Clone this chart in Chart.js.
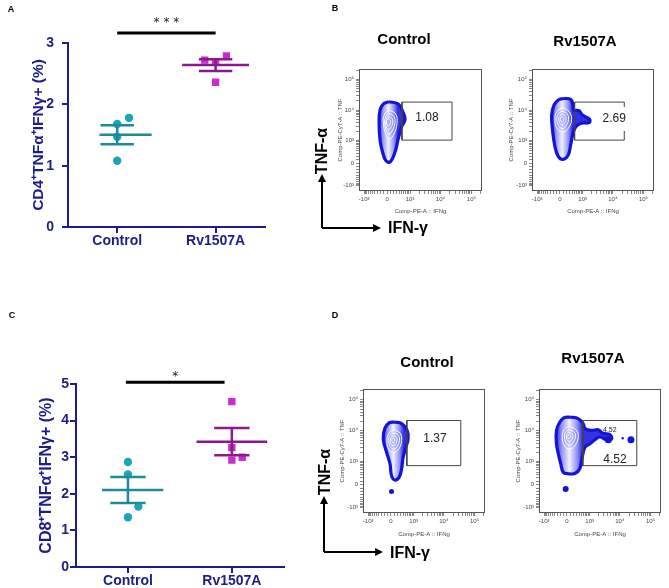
<!DOCTYPE html>
<html>
<head>
<meta charset="utf-8">
<script src="https://cdn.jsdelivr.net/npm/chart.js@4.4.1/dist/chart.umd.min.js"></script>
<style>
body{margin:0;background:#fff;font-family:"Liberation Sans",Arial,sans-serif;}
#page{position:relative;width:669px;height:588px;overflow:hidden;background:#fff;}
canvas{position:absolute;}
.t{position:absolute;white-space:nowrap;transform:translate(-50%,-50%);font-weight:bold;color:#000;line-height:1;}
.lt{font-size:9px;}
.hd{font-size:15px;}
.ax{font-size:16px;}
.rot{transform:translate(-50%,-50%) rotate(-90deg);}
svg{position:absolute;left:0;top:0;}
</style>
</head>
<body>
<div id="page">
  <canvas id="cA" width="270" height="260" style="left:0;top:0"></canvas>
  <canvas id="cC" width="289" height="248" style="left:0;top:340px"></canvas>
  <canvas id="fB1" width="165" height="160" style="left:325px;top:62px"></canvas>
  <canvas id="fB2" width="164" height="160" style="left:498px;top:62px"></canvas>
  <canvas id="fD1" width="164" height="162" style="left:329px;top:382px"></canvas>
  <canvas id="fD2" width="164" height="162" style="left:505px;top:382px"></canvas>

  <svg width="669" height="588">
    <g stroke="#000" stroke-width="2" fill="none">
      <path d="M322 228 V181 M322 228 H374"/>
      <path d="M324 552 V503 M324 552 H376"/>
    </g>
    <g fill="#000">
      <path d="M322 174 L318 182 L326 182 Z"/>
      <path d="M381 228 L373 224 L373 232 Z"/>
      <path d="M324 496 L320 504 L328 504 Z"/>
      <path d="M383 552 L375 548 L375 556 Z"/>
    </g>
  </svg>

  <div class="t lt" style="left:11px;top:9px">A</div>
  <div class="t lt" style="left:335px;top:8px">B</div>
  <div class="t lt" style="left:12px;top:315px">C</div>
  <div class="t lt" style="left:335px;top:315px">D</div>

  <div class="t hd" style="left:404px;top:38px">Control</div>
  <div class="t hd" style="left:585px;top:40px">Rv1507A</div>
  <div class="t hd" style="left:427px;top:361px">Control</div>
  <div class="t hd" style="left:593px;top:357px">Rv1507A</div>

  <div class="t ax rot" style="left:322px;top:151px">TNF-α</div>
  <div class="t ax" style="left:408px;top:228px">IFN-γ</div>
  <div class="t ax rot" style="left:325px;top:472px">TNF-α</div>
  <div class="t ax" style="left:410px;top:553px">IFN-γ</div>
</div>

<script>
// ---- dot plots (A: CD4, C: CD8), % of cells ----
var groups = ['Control', 'Rv1507A'];
var cd4Control = [1.68, 1.78, 1.47, 1.08];
var cd4Rv = [2.72, 2.69, 2.79, 2.36];
var cd8Control = [2.87, 2.53, 1.65, 1.36];
var cd8Rv = [4.52, 3.26, 2.92, 3.00];
var cd4Ticks = [0, 1, 2, 3];
var cd8Ticks = [0, 1, 2, 3, 4, 5];
var cd4Stars = '* * *';
var cd8Stars = '*';

// ---- flow plots, biexponential axes ----
var flowTickValues = [-1000, 0, 1000, 10000, 100000];
var flowTickLabels = ['-10³', '0', '10³', '10⁴', '10⁵'];
var gateB = ['1.08', '2.69'];
var gateD = ['1.37', '4.52'];

// contour outlines, in axis display units
var bCtrlOuter = [[0.04,2.00],[0.36,1.93],[0.53,1.62],[0.58,1.41],[0.47,1.19],[0.35,0.75],[0.26,0.37],[0.10,0.04],[-0.04,0.08],[-0.15,0.37],[-0.23,0.75],[-0.26,1.30],[-0.23,1.73],[-0.12,1.93]];
var bCtrlRings = [
  [[0.08,1.72],[0.28,1.60],[0.32,1.30],[0.22,0.95],[0.08,0.80],[-0.04,0.95],[-0.12,1.30],[-0.08,1.60]],
  [[0.06,1.62],[0.22,1.52],[0.25,1.30],[0.16,1.05],[0.06,0.95],[-0.03,1.08],[-0.08,1.32],[-0.04,1.52]],
  [[0.05,1.52],[0.16,1.45],[0.18,1.30],[0.11,1.15],[0.04,1.10],[-0.02,1.18],[-0.05,1.33],[-0.02,1.46]],
  [[0.04,1.45],[0.10,1.40],[0.11,1.32],[0.07,1.24],[0.03,1.22],[-0.01,1.27],[-0.02,1.35],[0.00,1.42]]
];
var bRvOuter = [[0.11,2.11],[0.35,2.08],[0.43,1.90],[0.45,1.73],[0.62,1.71],[0.73,1.57],[0.97,1.43],[0.95,1.32],[0.70,1.30],[0.52,1.19],[0.43,0.97],[0.35,0.59],[0.27,0.26],[0.11,0.12],[-0.05,0.21],[-0.16,0.53],[-0.24,1.08],[-0.27,1.57],[-0.19,1.90],[-0.05,2.06]];
var bRvRings = [
  [[0.08,1.80],[0.30,1.68],[0.38,1.42],[0.28,1.15],[0.10,1.02],[-0.08,1.12],[-0.16,1.40],[-0.10,1.68]],
  [[0.08,1.70],[0.24,1.60],[0.28,1.42],[0.20,1.22],[0.08,1.13],[-0.04,1.22],[-0.10,1.42],[-0.06,1.60]],
  [[0.08,1.60],[0.18,1.53],[0.20,1.42],[0.14,1.30],[0.07,1.25],[0.00,1.30],[-0.04,1.43],[-0.02,1.53]],
  [[0.08,1.52],[0.12,1.48],[0.13,1.42],[0.10,1.37],[0.06,1.35],[0.02,1.38],[0.01,1.44],[0.03,1.50]]
];
var dCtrlOuter = [[0.13,2.01],[0.35,1.96],[0.53,1.74],[0.56,1.47],[0.49,1.20],[0.40,0.88],[0.35,0.51],[0.27,0.24],[0.13,0.15],[0.02,0.29],[-0.03,0.67],[-0.16,1.10],[-0.25,1.47],[-0.20,1.80],[-0.06,1.98]];
var dCtrlRings = [
  [[0.10,1.76],[0.30,1.65],[0.35,1.42],[0.26,1.15],[0.10,1.04],[-0.06,1.12],[-0.13,1.40],[-0.06,1.65]],
  [[0.09,1.66],[0.24,1.58],[0.28,1.42],[0.20,1.22],[0.09,1.14],[-0.02,1.22],[-0.07,1.42],[-0.03,1.58]],
  [[0.08,1.57],[0.18,1.51],[0.20,1.42],[0.15,1.30],[0.08,1.26],[0.01,1.30],[-0.02,1.42],[0.01,1.52]],
  [[0.08,1.50],[0.12,1.47],[0.13,1.42],[0.11,1.37],[0.08,1.35],[0.04,1.37],[0.03,1.42],[0.05,1.47]]
];
var dCtrlDots = [[0.02,-0.22]];
var dRvOuter = [[0.10,2.17],[0.37,2.12],[0.53,1.96],[0.59,1.80],[0.81,1.74],[1.02,1.76],[1.18,1.65],[1.40,1.61],[1.46,1.47],[1.30,1.44],[1.08,1.53],[0.91,1.44],[0.75,1.31],[0.59,1.20],[0.50,0.88],[0.42,0.51],[0.26,0.36],[0.04,0.35],[-0.12,0.40],[-0.20,0.67],[-0.28,0.99],[-0.34,1.31],[-0.34,1.74],[-0.23,2.01],[-0.09,2.15]];
var dRvRings = [
  [[0.08,1.86],[0.30,1.76],[0.37,1.55],[0.28,1.28],[0.10,1.15],[-0.08,1.25],[-0.15,1.55],[-0.08,1.78]],
  [[0.08,1.76],[0.24,1.68],[0.28,1.55],[0.20,1.36],[0.08,1.27],[-0.03,1.35],[-0.08,1.55],[-0.04,1.70]],
  [[0.08,1.68],[0.17,1.63],[0.20,1.55],[0.15,1.44],[0.08,1.39],[0.01,1.44],[-0.02,1.56],[0.01,1.64]],
  [[0.08,1.62],[0.12,1.59],[0.13,1.55],[0.11,1.50],[0.08,1.48],[0.04,1.50],[0.03,1.55],[0.05,1.60]]
];
var dRvDots = [[1.35,1.44],[2.09,1.44],[1.82,1.49],[-0.04,-0.14]];

var navy = '#1c1c8a';
Chart.defaults.font.family = '"Liberation Sans", Arial, sans-serif';
Chart.defaults.animation = false;

function meanOf(a) { var s = 0; for (var i = 0; i < a.length; i++) s += a[i]; return s / a.length; }
function semOf(a) {
  var m = meanOf(a), s = 0;
  for (var i = 0; i < a.length; i++) s += (a[i] - m) * (a[i] - m);
  return Math.sqrt(s / (a.length - 1)) / Math.sqrt(a.length);
}

function groupSets(vals, jit, pos, span, ptColor, lineColor, style, pr) {
  var m = meanOf(vals), e = semOf(vals);
  return [
    { data: vals.map(function (v, i) { return { x: pos + jit[i], y: v }; }),
      pointStyle: style, pointRadius: pr, backgroundColor: ptColor, borderColor: ptColor, borderWidth: 0, order: 2 },
    { data: [{ x: pos + span[0], y: m }, { x: pos + span[1], y: m }],
      showLine: true, borderColor: lineColor, borderWidth: 2.5, pointRadius: 0, order: 1 },
    { data: [{ x: pos - 0.17, y: m + e }, { x: pos + 0.17, y: m + e }, { x: pos, y: null },
             { x: pos - 0.17, y: m - e }, { x: pos + 0.17, y: m - e }, { x: pos, y: null },
             { x: pos, y: m + e }, { x: pos, y: m - e }],
      showLine: true, spanGaps: false, borderColor: lineColor, borderWidth: 2.5, pointRadius: 0, order: 1 }
  ];
}

function sigPlugin(from, to, yBar, yText, text) {
  return {
    id: 'sig',
    afterDraw: function (chart) {
      var x = chart.scales.x, y = chart.scales.y, c = chart.ctx;
      var x1 = x.getPixelForValue(from), x2 = x.getPixelForValue(to), py = y.getPixelForValue(yBar);
      c.save();
      c.strokeStyle = '#000'; c.lineWidth = 3;
      c.beginPath(); c.moveTo(x1, py); c.lineTo(x2, py); c.stroke();
      c.fillStyle = '#222'; c.font = '12px "DejaVu Sans"'; c.textAlign = 'center'; c.textBaseline = 'middle';
      c.fillText(text, (x1 + x2) / 2, y.getPixelForValue(yText));
      c.restore();
    }
  };
}

function dotChart(id, ctrl, rv, ticks, yMax, cfg) {
  var ds = groupSets(ctrl, cfg.jitC, 1, cfg.spanC, '#1ba4b9', '#1b8a9c', 'circle', 4.2)
    .concat(groupSets(rv, cfg.jitR, 2, [-0.34, 0.34], '#cc2ccc', '#8b198b', 'rect', 5.2));
  return new Chart(document.getElementById(id), {
    type: 'scatter',
    data: { datasets: ds },
    plugins: [sigPlugin(cfg.bar[0], cfg.bar[1], cfg.bar[2], cfg.bar[3], cfg.stars)],
    options: {
      responsive: false, events: [],
      layout: { padding: { top: cfg.top, right: 0, left: 0, bottom: 0 } },
      plugins: { legend: { display: false }, tooltip: { enabled: false } },
      scales: {
        x: {
          type: 'linear', min: 0.5, max: 2.5,
          afterBuildTicks: function (s) { s.ticks = [{ value: 1 }, { value: 2 }]; },
          afterFit: function (s) { s.height = cfg.xh; },
          ticks: { autoSkip: false, maxRotation: 0, padding: 0, color: navy, font: { size: 14, weight: 'bold' },
            callback: function (v) { return groups[v - 1]; } },
          grid: { drawOnChartArea: false, tickLength: 6, color: navy, lineWidth: 2 },
          border: { color: navy, width: 2 }
        },
        y: {
          min: 0, max: yMax,
          afterBuildTicks: function (s) { s.ticks = ticks.map(function (v) { return { value: v }; }); },
          afterFit: function (s) { s.width = cfg.yw; },
          ticks: { padding: cfg.tp, color: navy, font: { size: 14, weight: 'bold' } },
          grid: { drawOnChartArea: false, tickLength: 6, color: navy, lineWidth: 2 },
          border: { color: navy, width: 2 },
          title: { display: true, text: cfg.title, color: navy, font: { size: cfg.ts, weight: 'bold' },
            padding: { top: cfg.tpad, bottom: 0 } }
        }
      }
    }
  });
}

dotChart('cA', cd4Control, cd4Rv, cd4Ticks, 3, {
  jitC: [0, 0.12, 0, 0], jitR: [-0.11, 0, 0.11, 0], spanC: [-0.18, 0.35],
  bar: [1, 2, 3.163, 3.33], stars: cd4Stars, top: 43, xh: 33, yw: 68, tp: 8,
  title: 'CD4⁺TNFα⁺IFNγ+ (%)', ts: 15.5, tpad: 29
});
dotChart('cC', cd8Control, cd8Rv, cd8Ticks, 5, {
  jitC: [0, 0, 0.1, 0], jitR: [0, 0, 0, 0.1], spanC: [-0.25, 0.34],
  bar: [0.98, 1.93, 5.05, 5.2], stars: cd8Stars, top: 44, xh: 21, yw: 76, tp: 1,
  title: 'CD8⁺TNFα⁺IFNγ+ (%)', ts: 16, tpad: 37
});

// ---- flow plots ----
function tf(v) { return Math.asinh(v / 375) / Math.LN10; }
var flowMinor = [100, -100];
for (var k = 2; k <= 9; k++) flowMinor.push(k * 100, -k * 100, k * 1000, -k * 1000, k * 10000, k * 100000);

function flowTicks(scale) {
  var out = [];
  flowMinor.forEach(function (v) { out.push({ value: tf(v), lab: '' }); });
  flowTickValues.forEach(function (v, i) { out.push({ value: tf(v), lab: flowTickLabels[i] }); });
  out = out.filter(function (t) { return t.value >= scale.min && t.value <= scale.max; });
  out.sort(function (a, b) { return a.value - b.value; });
  scale.ticks = out;
}

function flowAxis(title, isX, pad) {
  return {
    type: 'linear', min: -0.91, max: 3.07,
    afterBuildTicks: flowTicks,
    afterFit: function (s) { if (isX) s.height = 31; else s.width = 34; },
    ticks: { autoSkip: false, maxRotation: 0, minRotation: 0, padding: 2, color: '#444', font: { size: 6 },
      callback: function (v, i, t) { return t[i].lab || ''; } },
    grid: { drawOnChartArea: false, tickLength: 3, color: '#555', lineWidth: 0.7 },
    border: { display: false },
    title: { display: true, text: title, color: '#444', font: { size: 6 },
      padding: isX ? { top: 0, bottom: pad } : { top: pad, bottom: 0 } }
  };
}

function pts(a) { return a.map(function (p) { return { x: p[0], y: p[1] }; }); }
function closed(a) { return pts(a.concat([a[0]])); }

function flowPlugin(labels) {
  return {
    id: 'gateLabels',
    afterDatasetsDraw: function (chart) {
      var c = chart.ctx, xs = chart.scales.x, ys = chart.scales.y, a = chart.chartArea;
      c.save();
      labels.forEach(function (l) {
        var px = xs.getPixelForValue(l.x), py = ys.getPixelForValue(l.y);
        c.font = l.size + 'px "Liberation Sans"';
        if (l.bg) {
          var w = c.measureText(l.text).width;
          c.fillStyle = '#fff'; c.fillRect(px - w / 2 - 3, py - l.size, w + 6, l.size * 2);
        }
        c.fillStyle = '#222'; c.textAlign = 'center'; c.textBaseline = 'middle';
        c.fillText(l.text, px, py);
      });
      c.strokeStyle = '#555'; c.lineWidth = 1;
      c.strokeRect(a.left + 0.5, a.top + 0.5, a.right - a.left - 1, a.bottom - a.top - 1);
      c.restore();
    }
  };
}

function flowChart(id, outer, rings, dots, dotR, gate, labels, pads) {
  var inner = rings[rings.length - 1];
  var cx = meanOf(inner.map(function (p) { return p[0]; }));
  var minX = Math.min.apply(null, outer.map(function (p) { return p[0]; }));
  var fillFn = function (ctx) {
    var ch = ctx.chart;
    if (!ch.chartArea) return '#9a9af2';
    var x0 = ch.scales.x.getPixelForValue(minX), x1 = ch.scales.x.getPixelForValue(2 * cx - minX);
    var g = ch.ctx.createLinearGradient(x0, 0, x1, 0);
    g.addColorStop(0, '#3232e0'); g.addColorStop(0.2, '#9494f2'); g.addColorStop(0.5, '#f0f0fe');
    g.addColorStop(0.8, '#9494f2'); g.addColorStop(1, '#3232e0');
    return g;
  };
  var ds = [{
    data: closed(outer), showLine: true, tension: 0.4, fill: 'shape', backgroundColor: fillFn,
    borderColor: '#1414d8', borderWidth: 3.2, pointRadius: 0, order: 8
  }];
  rings.forEach(function (r, i) {
    ds.push({ data: closed(r), showLine: true, tension: 0.45, fill: 'shape',
      backgroundColor: 'rgba(90,90,230,0.12)', borderColor: '#ffffff', borderWidth: 1, pointRadius: 0, order: 7 - i });
  });
  if (dots.length) ds.push({ data: pts(dots), pointRadius: dotR, backgroundColor: '#1414d8', borderWidth: 0, order: 2 });
  ds.push({ data: closed(gate), showLine: true, tension: 0, fill: false, borderColor: '#444', borderWidth: 1,
    pointRadius: 0, order: 1 });
  return new Chart(document.getElementById(id), {
    type: 'scatter',
    data: { datasets: ds },
    plugins: [flowPlugin(labels)],
    options: {
      responsive: false, events: [],
      layout: { padding: { top: 7, right: 8, left: 0, bottom: 0 } },
      plugins: { legend: { display: false }, tooltip: { enabled: false } },
      scales: {
        x: flowAxis('Comp-PE-A :: IFNg', true, pads[0]),
        y: flowAxis('Comp-PE-Cy7-A :: TNF', false, pads[1])
      }
    }
  });
}

var gateBox1 = [[0.48, 0.75], [2.10, 0.75], [2.10, 1.99], [0.48, 1.99]];
var gateBox2 = [[0.52, 0.61], [2.28, 0.61], [2.28, 2.06], [0.52, 2.06]];

flowChart('fB1', bCtrlOuter, bCtrlRings, [], 0, gateBox1,
  [{ text: gateB[0], x: 1.29, y: 1.47, size: 12 }], [7, 12]);
flowChart('fB2', bRvOuter, bRvRings, [], 0, gateBox1,
  [{ text: gateB[1], x: 1.77, y: 1.44, size: 12, bg: true }], [7, 10]);
flowChart('fD1', dCtrlOuter, dCtrlRings, dCtrlDots, 2.5, gateBox2,
  [{ text: gateD[0], x: 1.44, y: 1.48, size: 12 }], [6, 10]);
flowChart('fD2', dRvOuter, dRvRings, dRvDots, [3.5, 3.5, 1.2, 3], gateBox2,
  [{ text: gateD[1], x: 1.40, y: 1.74, size: 7 }, { text: gateD[1], x: 1.57, y: 0.81, size: 12 }], [6, 10]);
</script>
</body>
</html>
